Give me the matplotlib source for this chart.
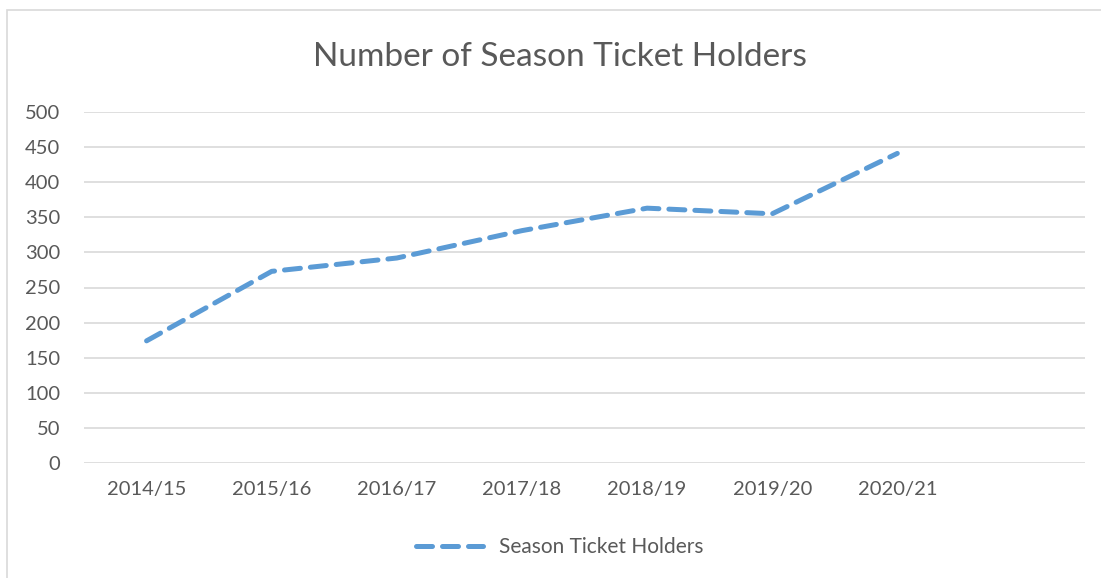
import matplotlib.pyplot as plt
from matplotlib.patches import Rectangle

seasons = ["2014/15", "2015/16", "2016/17", "2017/18", "2018/19", "2019/20", "2020/21"]
holders = [174, 273, 292, 331, 363, 355, 441]

plt.rcParams['font.family'] = ['Lato', 'DejaVu Sans']
txt = "#595959"

fig = plt.figure(figsize=(11.01, 5.78), dpi=100)
ax = fig.add_axes([84/1101, 1-463/578, (1085-84)/1101, (463-112)/578])

# chart border
fig.patches.append(Rectangle((7/1101, -0.1), 1.2, 1-10/578+0.1, transform=fig.transFigure,
                             fill=False, edgecolor="#d9d9d9", linewidth=1.2))

x = list(range(len(seasons)))
ax.plot(x, holders, color="#5b9bd5", linewidth=3.6, linestyle=(0, (3.2, 2.0)),
        dash_capstyle="round", label="Season Ticket Holders")

ax.set_xlim(-0.5, 7.5)
ax.set_ylim(0, 500)
ax.set_yticks(range(0, 501, 50))
ax.set_xticks(x)
ax.set_xticklabels(seasons)
ax.grid(axis="y", color="#d9d9d9", linewidth=1.2)
ax.set_axisbelow(True)
for s in ax.spines.values():
    s.set_visible(False)
ax.tick_params(length=0, labelsize=14.5, colors=txt)
ax.tick_params(axis="y", pad=17)
ax.tick_params(axis="x", pad=13)

fig.text(560/1101, 1-57/578, "Number of Season Ticket Holders", ha="center", va="center",
         fontsize=24, color=txt)
leg = fig.legend(loc="center", bbox_to_anchor=(560/1101, 1-547/578), frameon=False,
                 fontsize=15, handlelength=3.2)
for t in leg.get_texts():
    t.set_color(txt)

fig.savefig("out.png", dpi=100)
